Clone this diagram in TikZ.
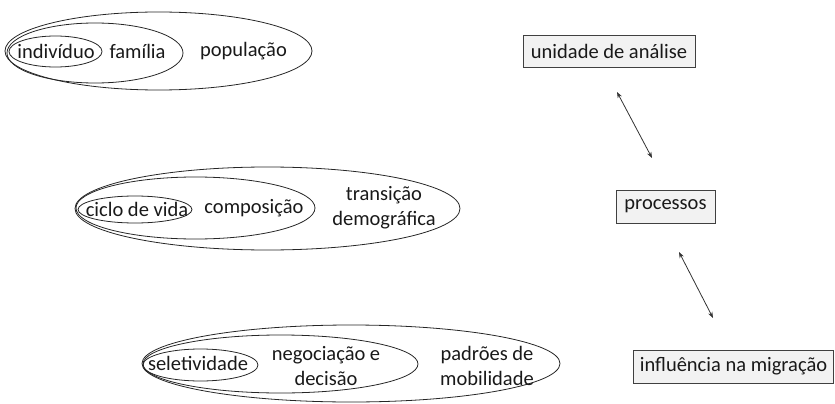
\documentclass[tikz,border=0pt]{standalone}
\usepackage{fontspec}
\setmainfont{Carlito}
\usetikzlibrary{arrows.meta}
\definecolor{boxfill}{HTML}{F2F2F2}
\definecolor{boxline}{HTML}{404040}
\begin{document}
\begin{tikzpicture}[x=1pt,y=-1pt,
  ring/.style={draw=black!85,line width=0.8pt},
  lbl/.style={font=\fontsize{20.5}{25}\selectfont,align=center,inner sep=0pt,text=black!90},
  tag/.style={draw=boxline,fill=boxfill,line width=0.8pt,font=\fontsize{20.5}{25}\selectfont,inner sep=0pt,text=black!90},
  link/.style={line width=0.8pt,draw=black!80,{Stealth[length=6pt,width=4.5pt]}-{Stealth[length=6pt,width=4.5pt]}}]
\useasboundingbox (0,0) rectangle (835,404);
% group 1
\draw[ring] (158.5,51) ellipse [x radius=153.5pt, y radius=39pt];
\draw[ring] (95,53) ellipse [x radius=88pt, y radius=30pt];
\draw[ring] (55.5,51.5) ellipse [x radius=46.5pt, y radius=15.5pt];
\node[lbl] (ind) at (56,51) {indivíduo};
\node[lbl] (fam) at (137.5,51) {família};
\node[lbl] (pop) at (243.5,51) {população};
% group 2
\draw[ring] (267.5,208.5) ellipse [x radius=192.5pt, y radius=41.5pt];
\draw[ring] (195.5,208) ellipse [x radius=119.5pt, y radius=31pt];
\draw[ring] (135,209.5) ellipse [x radius=57pt, y radius=13.5pt];
\node[lbl] (cic) at (137,209) {ciclo de vida};
\node[lbl] (com) at (254,208) {composição};
\node[lbl] (tra) at (384,208) {transição\\demográfica};
% group 3
\draw[ring] (351,363.5) ellipse [x radius=209pt, y radius=38.5pt];
\draw[ring] (280.5,364) ellipse [x radius=137.5pt, y radius=29pt];
\draw[ring] (200.5,365) ellipse [x radius=57.5pt, y radius=16pt];
\node[lbl] (sel) at (198,363) {seletividade};
\node[lbl] (neg) at (326,366) {negociação e\\decisão};
\node[lbl] (pad) at (487,366) {padrões de\\mobilidade};
% right column
\node[tag,minimum width=172pt,minimum height=32pt] (uni) at (609,51) {unidade de análise};
\node[tag,minimum width=99pt,minimum height=33pt] (pro) at (665.5,206.5) {processos};
\node[tag,minimum width=200pt,minimum height=33pt] (inf) at (733.5,366.5) {influência na migração};
\coordinate (a1) at (617,92);
\coordinate (a2) at (652,158);
\coordinate (b1) at (679,252);
\coordinate (b2) at (713,318);
\draw[link] (a1) -- (a2);
\draw[link] (b1) -- (b2);
\end{tikzpicture}
\end{document}
